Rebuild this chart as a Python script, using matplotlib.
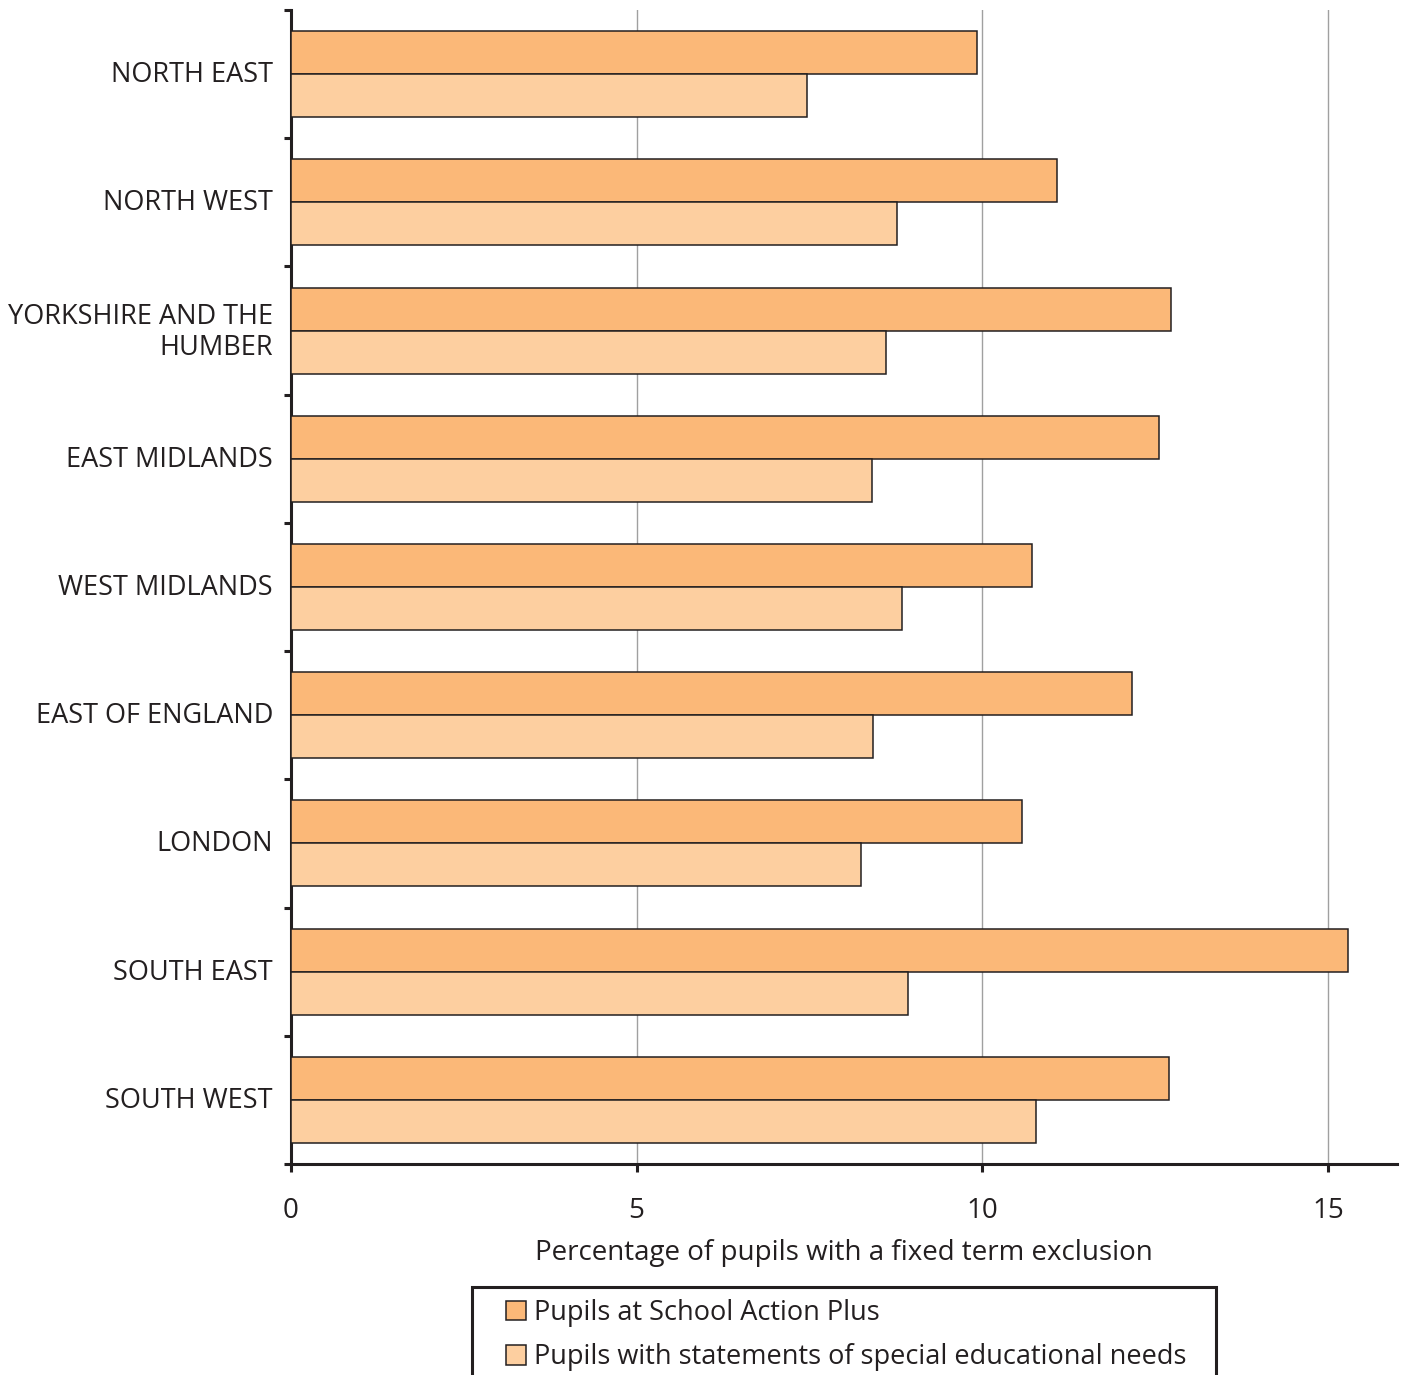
import numpy as np
import matplotlib.pyplot as plt
from matplotlib.ticker import FixedLocator
from matplotlib.patches import Rectangle

regions = ["NORTH EAST", "NORTH WEST", "YORKSHIRE AND THE\nHUMBER", "EAST MIDLANDS",
           "WEST MIDLANDS", "EAST OF ENGLAND", "LONDON", "SOUTH EAST", "SOUTH WEST"]
action_plus = [9.93, 11.08, 12.73, 12.56, 10.72, 12.17, 10.58, 15.29, 12.70]
statements = [7.47, 8.77, 8.61, 8.40, 8.84, 8.42, 8.25, 8.93, 10.78]
x_ticks = [0, 5, 10, 15]

plt.rcParams['font.family'] = ['Open Sans', 'DejaVu Sans']
ink = "#231f20"

W, H = 1407, 1375
fig = plt.figure(figsize=(W/100, H/100), dpi=100)
ax = fig.add_axes([291/W, 1-1164/H, (1397-291)/W, (1164-10)/H])

y = np.arange(len(regions))
h = 0.335
ax.barh(y - h/2, action_plus, height=h, color="#fbb878", edgecolor=ink, linewidth=1.1,
        label="Pupils at School Action Plus", zorder=3)
ax.barh(y + h/2, statements, height=h, color="#fdcfa0", edgecolor=ink, linewidth=1.1,
        label="Pupils with statements of special educational needs", zorder=3)

ax.set_ylim(len(regions) - 0.5, -0.5)
ax.set_xlim(0, 16)
ax.set_yticks(y - 0.02)
ax.set_yticklabels(regions, fontsize=19.5, color=ink, linespacing=1.1)
ax.tick_params(axis='y', which='major', length=0, pad=13)
ax.yaxis.set_minor_locator(FixedLocator(np.arange(-0.5, len(regions), 1)))
ax.tick_params(axis='y', which='minor', length=5, width=2.2, color=ink, direction='out')

ax.set_xticks(x_ticks)
ax.tick_params(axis='x', length=6, width=2.2, color=ink, labelsize=20, labelcolor=ink, pad=18)
ax.set_xlabel("Percentage of pupils with a fixed term exclusion", fontsize=20, color=ink, labelpad=10)

ax.grid(axis='x', color="#a0a0a0", linewidth=1, zorder=0)
for s in ["top", "right"]:
    ax.spines[s].set_visible(False)
for s in ["left", "bottom"]:
    ax.spines[s].set_linewidth(2.2)
    ax.spines[s].set_color(ink)

# legend box runs off the bottom of the picture
fig.patches.append(Rectangle((472/W, -0.05), (1216-472)/W, 0.05 + 1 - 1287/H,
                             transform=fig.transFigure, fill=False, edgecolor=ink, linewidth=2.2))
leg = fig.legend(loc="upper left", bbox_to_anchor=(506/W, 1-1299/H),
                 fontsize=19.5, frameon=False,
                 handlelength=0.74, handleheight=0.74, handletextpad=0.3,
                 borderpad=0, labelspacing=0.6, borderaxespad=0)
for t in leg.get_texts():
    t.set_color(ink)

fig.savefig("out.png", dpi=100)
